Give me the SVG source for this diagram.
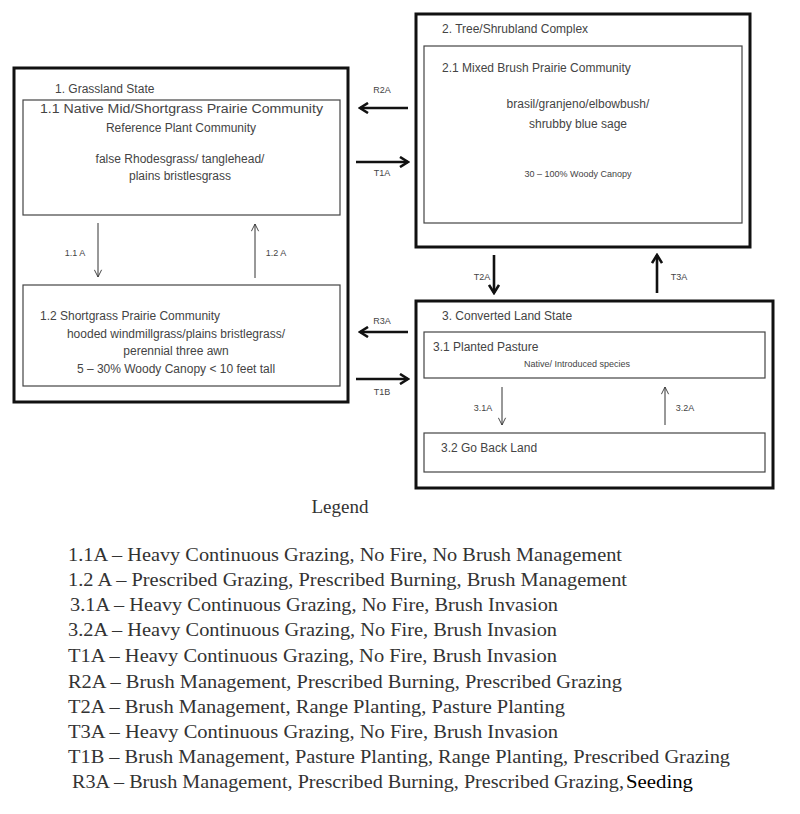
<svg xmlns="http://www.w3.org/2000/svg" width="800" height="814" viewBox="0 0 800 814">
<style>
.outer{fill:none;stroke:#111;stroke-width:3}
.inner{fill:none;stroke:#444;stroke-width:1.2}
.t{font-family:"Liberation Sans",Arial,sans-serif;fill:#444;font-size:12px}
.s{font-family:"Liberation Sans",Arial,sans-serif;fill:#444;font-size:9px}
.lab{font-family:"Liberation Sans",Arial,sans-serif;fill:#444;font-size:9px}
.thick{stroke:#111;stroke-width:2.6;fill:none}
.thin{stroke:#333;stroke-width:1;fill:none}
.leg{font-family:"Liberation Serif","Times New Roman",serif;fill:#333;font-size:19px}
</style>
<defs>
<marker id="ahk" viewBox="0 0 12 12" refX="10" refY="6" markerWidth="12" markerHeight="12" markerUnits="userSpaceOnUse" orient="auto">
<path d="M2,1 L10,6 L2,11" fill="none" stroke="#111" stroke-width="2.6"/>
</marker>
<marker id="aht" viewBox="0 0 10 10" refX="9" refY="5" markerWidth="9" markerHeight="9" markerUnits="userSpaceOnUse" orient="auto">
<path d="M1,1 L9,5 L1,9" fill="none" stroke="#333" stroke-width="1"/>
</marker>
</defs>
<rect width="800" height="814" fill="#fff"/>

<g id="state1">
<rect class="outer" x="14" y="68" width="334" height="334"/>
<text class="t" x="55" y="93">1. Grassland State</text>
</g>
<g id="comm11">
<rect class="inner" x="23" y="100" width="317" height="115"/>
<text class="t" x="40" y="113" textLength="283" lengthAdjust="spacingAndGlyphs">1.1 Native Mid/Shortgrass Prairie Community</text>
<text class="t" x="181" y="132" text-anchor="middle">Reference Plant Community</text>
<text class="t" x="180" y="163" text-anchor="middle" font-size="11">false Rhodesgrass/ tanglehead/</text>
<text class="t" x="180" y="180" text-anchor="middle" font-size="11">plains bristlesgrass</text>
</g>
<g id="comm12">
<rect class="inner" x="23" y="285" width="317" height="101"/>
<text class="t" x="40" y="320">1.2 Shortgrass Prairie Community</text>
<text class="t" x="176" y="338" text-anchor="middle" font-size="10">hooded windmillgrass/plains bristlegrass/</text>
<text class="t" x="176" y="355" text-anchor="middle" font-size="10">perennial three awn</text>
<text class="t" x="176" y="373" text-anchor="middle" font-size="11">5 – 30% Woody Canopy &lt; 10 feet tall</text>
</g>

<g id="state2">
<rect class="outer" x="416" y="14" width="334" height="233"/>
<text class="t" x="442" y="33">2. Tree/Shrubland Complex</text>
</g>
<g id="comm21">
<rect class="inner" x="424" y="46" width="318" height="177"/>
<text class="t" x="442" y="72">2.1 Mixed Brush Prairie Community</text>
<text class="t" x="578" y="108" text-anchor="middle" font-size="13">brasil/granjeno/elbowbush/</text>
<text class="t" x="578" y="128" text-anchor="middle" font-size="13">shrubby blue sage</text>
<text class="s" x="578" y="177" text-anchor="middle">30 – 100% Woody Canopy</text>
</g>

<g id="state3">
<rect class="outer" x="416" y="301" width="357" height="187"/>
<text class="t" x="442" y="320">3. Converted Land State</text>
</g>
<g id="comm31">
<rect class="inner" x="424" y="332" width="341" height="46"/>
<text class="t" x="433" y="351">3.1 Planted Pasture</text>
<text class="s" x="577" y="367" text-anchor="middle">Native/ Introduced species</text>
</g>
<g id="comm32">
<rect class="inner" x="424" y="433" width="341" height="39"/>
<text class="t" x="441" y="452">3.2  Go Back Land</text>
</g>

<g id="connectors">
<line class="thick" x1="408" y1="108" x2="360" y2="108" marker-end="url(#ahk)"/>
<line class="thick" x1="356" y1="162" x2="408" y2="162" marker-end="url(#ahk)"/>
<line class="thick" x1="408" y1="332" x2="360" y2="332" marker-end="url(#ahk)"/>
<line class="thick" x1="356" y1="379" x2="408" y2="379" marker-end="url(#ahk)"/>
<line class="thick" x1="494" y1="255" x2="494" y2="293" marker-end="url(#ahk)"/>
<line class="thick" x1="657" y1="293" x2="657" y2="255" marker-end="url(#ahk)"/>
<line class="thin" x1="98" y1="223" x2="98" y2="277" marker-end="url(#aht)"/>
<line class="thin" x1="255" y1="278" x2="255" y2="224" marker-end="url(#aht)"/>
<line class="thin" x1="502" y1="387" x2="502" y2="425" marker-end="url(#aht)"/>
<line class="thin" x1="665" y1="425" x2="665" y2="387" marker-end="url(#aht)"/>
<text class="lab" x="382" y="93" text-anchor="middle">R2A</text>
<text class="lab" x="382" y="176" text-anchor="middle">T1A</text>
<text class="lab" x="382" y="324" text-anchor="middle">R3A</text>
<text class="lab" x="382" y="395" text-anchor="middle">T1B</text>
<text class="lab" x="75" y="256" text-anchor="middle">1.1 A</text>
<text class="lab" x="276" y="256" text-anchor="middle">1.2 A</text>
<text class="lab" x="482" y="280" text-anchor="middle">T2A</text>
<text class="lab" x="679" y="280" text-anchor="middle">T3A</text>
<text class="lab" x="483" y="411" text-anchor="middle">3.1A</text>
<text class="lab" x="685" y="411" text-anchor="middle">3.2A</text>
</g>

<g id="legend">
<text class="leg" x="340" y="513" text-anchor="middle">Legend</text>
<text class="leg" x="68" y="561" textLength="554" lengthAdjust="spacingAndGlyphs">1.1A – Heavy Continuous  Grazing, No Fire, No Brush Management</text>
<text class="leg" x="68" y="586" textLength="559" lengthAdjust="spacingAndGlyphs">1.2 A – Prescribed Grazing, Prescribed Burning, Brush Management</text>
<text class="leg" x="70" y="611" textLength="488" lengthAdjust="spacingAndGlyphs">3.1A – Heavy Continuous  Grazing, No Fire, Brush Invasion</text>
<text class="leg" x="68" y="636" textLength="489" lengthAdjust="spacingAndGlyphs">3.2A – Heavy Continuous  Grazing, No Fire, Brush Invasion</text>
<text class="leg" x="68" y="662" textLength="489" lengthAdjust="spacingAndGlyphs">T1A – Heavy Continuous Grazing, No Fire, Brush Invasion</text>
<text class="leg" x="68" y="688" textLength="554" lengthAdjust="spacingAndGlyphs">R2A – Brush Management, Prescribed Burning, Prescribed Grazing</text>
<text class="leg" x="68" y="713" textLength="497" lengthAdjust="spacingAndGlyphs">T2A – Brush Management, Range Planting, Pasture Planting</text>
<text class="leg" x="68" y="738" textLength="490" lengthAdjust="spacingAndGlyphs">T3A – Heavy Continuous Grazing, No Fire, Brush Invasion</text>
<text class="leg" x="68" y="763" textLength="662" lengthAdjust="spacingAndGlyphs">T1B – Brush Management, Pasture Planting, Range Planting, Prescribed Grazing</text>
<text class="leg" x="72" y="788" textLength="552" lengthAdjust="spacingAndGlyphs">R3A – Brush Management, Prescribed Burning, Prescribed Grazing,</text>
<text class="leg" x="626" y="788" style="fill:#000" textLength="67" lengthAdjust="spacingAndGlyphs">Seeding</text>
</g>
</svg>
